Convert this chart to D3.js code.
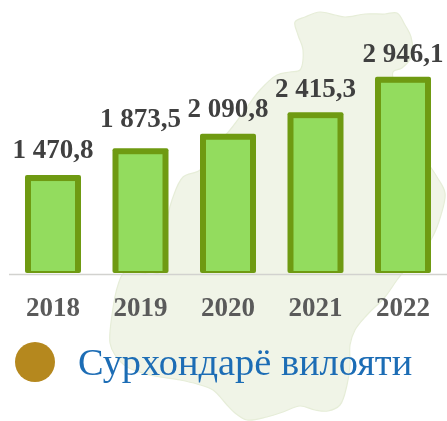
<!DOCTYPE html>
<html><head><meta charset="utf-8">
<script src="https://cdn.jsdelivr.net/npm/d3@7"></script>
<style>html,body{margin:0;padding:0;background:#fff}svg{display:block}</style>
</head><body><svg id="c" width="447" height="421"></svg>
<script>
const years=["2018","2019","2020","2021","2022"];
const values=[1470.8,1873.5,2090.8,2415.3,2946.1];
const valueLabels=["1 470,8","1 873,5","2 090,8","2 415,3","2 946,1"];
const legendLabel="Сурхондарё вилояти";
// decorative background map silhouette
const mapOutline=[[295,22],[305,17],[320,12],[335,15],[345,17],[365,14],[385,14],[397,13],[405,25],[411,37],[412,55],[402,68],[393,72],[398,95],[410,120],[420,150],[437,177],[445,193],[441,215],[432,238],[420,255],[405,270],[397,280],[385,297],[367,315],[355,330],[350,345],[350,365],[347,385],[340,405],[328,411],[315,410],[300,406],[283,412],[267,417],[247,420],[235,413],[227,405],[213,390],[197,384],[180,380],[150,375],[127,367],[115,355],[110,343],[112,315],[118,285],[125,272],[160,272],[168,215],[172,200],[183,177],[200,170],[212,150],[230,130],[245,110],[260,90],[277,75],[290,72],[300,70],[303,50],[298,35]];

const svg=d3.select("#c");
const defs=svg.append("defs");
defs.append("filter").attr("id","soft").append("feGaussianBlur").attr("stdDeviation",0.45);
const x=d3.scaleBand().domain(years).range([9.25,446.75]).paddingInner(0.36).paddingOuter(0.18);
const y=d3.scaleLinear().domain([0,3000]).range([273,73.2]);

svg.append("path").attr("d",d3.line().curve(d3.curveCatmullRomClosed)(mapOutline))
  .attr("fill","#f0f4e7").attr("stroke","#e6edd8").attr("stroke-width",1.2);

svg.append("line").attr("x1",9).attr("x2",447).attr("y1",274.5).attr("y2",274.5)
  .attr("stroke","#d2d2cf").attr("stroke-width",1.6);

const g=svg.append("g").selectAll("g").data(years).join("g");
g.append("rect").attr("x",d=>x(d)).attr("width",x.bandwidth())
  .attr("y",(d,i)=>y(values[i])).attr("height",(d,i)=>y(0)-y(values[i]))
  .attr("rx",2).attr("fill","#6f9a12");
g.append("rect").attr("x",d=>x(d)+6).attr("width",x.bandwidth()-12)
  .attr("y",(d,i)=>y(values[i])+6).attr("height",(d,i)=>y(0)-y(values[i])-8)
  .attr("fill","#93dc5e");

const txt=svg.append("g").attr("filter","url(#soft)").attr("font-family","'Liberation Serif',serif");
txt.selectAll("text.v").data(years).join("text").attr("class","v")
  .attr("x",d=>x(d)+x.bandwidth()/2).attr("y",(d,i)=>y(values[i])-[17,21,17,15,15][i])
  .attr("text-anchor","middle").attr("font-weight","bold").attr("font-size",27)
  .attr("fill","#404040")
  .text((d,i)=>valueLabels[i]);
txt.selectAll("text.yr").data(years).join("text").attr("class","yr")
  .attr("x",d=>x(d)+x.bandwidth()/2).attr("y",316)
  .attr("text-anchor","middle").attr("font-weight","bold").attr("font-size",27)
  .attr("fill","#5a5a5a").text(d=>d);

svg.append("circle").attr("cx",35).attr("cy",362).attr("r",20).attr("fill","#b5881e");
txt.append("text").attr("x",78).attr("y",375).attr("font-size",38.4)
  .attr("fill","#1f6db5").text(legendLabel);
</script></body></html>
